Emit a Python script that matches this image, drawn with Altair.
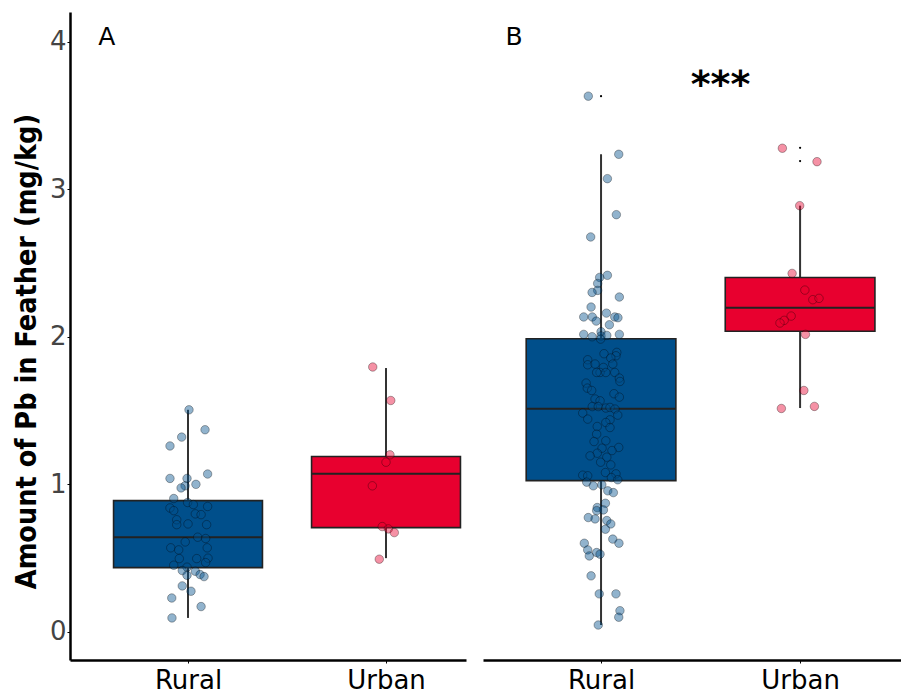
import altair as alt
import pandas as pd

groups = ["Rural", "Urban"]
group_pos = [1, 2]
colors = ["#004f8b", "#e8002f"]

# ---- Panel A box statistics (Rural, Urban) ----
a_q1 = [0.436, 0.707]
a_med = [0.642, 1.071]
a_q3 = [0.890, 1.189]
a_lo = [0.095, 0.500]
a_hi = [1.505, 1.788]

# ---- Panel B box statistics (Rural, Urban) ----
b_q1 = [1.025, 2.037]
b_med = [1.512, 2.196]
b_q3 = [1.986, 2.401]
b_lo = [0.047, 1.517]
b_hi = [3.236, 2.888]

# ---- Panel A points ----
a_rural_vals = [1.505, 1.37, 1.32, 1.26, 1.07, 1.04, 1.04, 1.00, 0.99, 0.976, 0.904, 0.877,
                0.863, 0.85, 0.84, 0.822, 0.80, 0.795, 0.76, 0.727, 0.732, 0.727, 0.642, 0.633,
                0.61, 0.57, 0.556, 0.57, 0.497, 0.497, 0.50, 0.452, 0.47, 0.439, 0.416, 0.411,
                0.384, 0.389, 0.375, 0.312, 0.276, 0.23, 0.172, 0.095]
a_rural_jit = [0.005, 0.086, -0.032, -0.091, 0.099, -0.091, -0.005, 0.040, -0.015, -0.035, -0.072, -0.002,
               0.027, 0.099, -0.091, -0.072, 0.037, 0.066, -0.057, -0.057, 0.0, 0.094, 0.049, 0.089,
               -0.014, -0.087, -0.047, 0.097, -0.044, 0.044, 0.101, -0.072, 0.089, -0.005, -0.029, 0.037,
               -0.005, 0.061, 0.081, -0.029, 0.015, -0.082, 0.066, -0.081]
a_urban_vals = [1.795, 1.568, 1.200, 1.150, 0.990, 0.714, 0.698, 0.673, 0.493]
a_urban_jit = [-0.067, 0.024, 0.020, 0.0, -0.069, -0.019, 0.012, 0.042, -0.034]

# ---- Panel B points ----
b_rural_vals = [3.63, 3.236, 3.071, 2.827, 2.676, 2.416, 2.402, 2.361, 2.314, 2.30, 2.269, 2.201,
                2.134, 2.134, 2.106, 2.16, 2.134, 2.129, 2.081, 2.034, 2.016, 2.0, 2.005, 2.009,
                2.016, 1.984,
                1.885, 1.894, 1.871, 1.856, 1.844, 1.810, 1.815, 1.792, 1.815, 1.758, 1.758, 1.758,
                1.758, 1.72, 1.697, 1.686, 1.652, 1.636, 1.614, 1.591, 1.578, 1.566, 1.527, 1.527,
                1.517, 1.521, 1.510, 1.469, 1.483, 1.442, 1.437, 1.419, 1.392, 1.385, 1.340, 1.295,
                1.290, 1.250, 1.245, 1.229, 1.211, 1.193, 1.184, 1.150, 1.132, 1.080, 1.071, 1.062,
                1.058, 1.046, 1.031,
                1.015, 0.990, 0.997, 0.956, 0.944, 0.872, 0.843, 0.827, 0.822, 0.775, 0.766, 0.755,
                0.732, 0.696, 0.629, 0.601, 0.601, 0.556, 0.538, 0.527, 0.515, 0.380, 0.258, 0.258,
                0.144, 0.100, 0.047]
b_rural_jit = [-0.064, 0.089, 0.032, 0.077, -0.052, 0.032, -0.007, -0.017, -0.017, -0.045, 0.092, -0.050,
               -0.087, -0.044, -0.024, 0.027, 0.069, 0.085, 0.042, 0.0, -0.087, -0.045, 0.0, 0.029,
               0.092, -0.002,
               0.015, 0.079, 0.075, 0.049, -0.067, -0.067, -0.030, 0.012, 0.059, -0.005, 0.024, -0.022,
               0.069, 0.092, 0.095, -0.075, -0.069, -0.047, 0.065, 0.092, -0.030, -0.005, -0.044, -0.014,
               0.024, 0.045, 0.070, 0.084, -0.092, -0.067, 0.045, 0.024, -0.019, 0.045, -0.022, 0.024,
               -0.035, 0.089, 0.005, 0.055, -0.019, -0.055, 0.029, -0.002, 0.049, 0.022, 0.075, -0.092,
               -0.067, 0.052, 0.084,
               -0.072, -0.039, 0.004, 0.034, 0.062, 0.022, -0.019, 0.012, -0.022, -0.064, -0.030, 0.029,
               0.049, 0.022, 0.059, 0.090, -0.084, -0.067, -0.022, -0.005, -0.059, -0.050, -0.009, 0.075,
               0.095, 0.089, -0.014]
b_urban_vals = [3.277, 3.186, 2.888, 2.429, 2.316, 2.251, 2.26, 2.140, 2.111, 2.093, 2.016, 1.636,
                1.514, 1.528]
b_urban_jit = [-0.089, 0.085, -0.002, -0.040, 0.024, 0.064, 0.095, -0.045, -0.080, -0.101, 0.027, 0.019,
               -0.094, 0.072]

# ---- Outliers (small black dots), panel B ----
b_out_groups = ["Rural", "Urban", "Urban"]
b_out_vals = [3.63, 3.28, 3.19]

# ---- Annotations ----
panel_letters = ["A", "B"]
letter_x = [0.59, 0.563]
letter_y = [4.03, 4.03]
star_text = "***"
star_x = 1.6
star_y = 3.70

Y_TITLE = "Amount of Pb in Feather (mg/kg)"
y_ticks = [0, 1, 2, 3, 4]
y_domain = [-0.19, 4.2]
HALF_BOX = 0.376
FONT = "DejaVu Sans"

pos_of = dict(zip(groups, group_pos))
color_scale = alt.Scale(domain=groups, range=colors)
label_expr = "datum.value == 1 ? '%s' : '%s'" % (groups[0], groups[1])


def panel(q1, med, q3, lo, hi, pts, outs, letter_idx, xdomain, width, show_y, stars):
    box_df = pd.DataFrame({"group": groups, "pos": group_pos, "q1": q1, "med": med,
                           "q3": q3, "lo": lo, "hi": hi})
    rows = []
    for g, vals, jit in pts:
        for v, j in zip(vals, jit):
            rows.append({"group": g, "pos": pos_of[g], "value": v, "jit": j})
    pts_df = pd.DataFrame(rows)

    xscale = alt.Scale(domain=xdomain, nice=False, zero=False)
    yscale = alt.Scale(domain=y_domain, nice=False, zero=False)
    xaxis = alt.Axis(values=group_pos, labelExpr=label_expr, title=None, grid=False,
                     domainColor="black", domainWidth=2.5, tickColor="black", tickSize=3,
                     labelFontSize=26, labelFont=FONT, labelColor="black",
                     labelPadding=4)
    if show_y:
        yaxis = alt.Axis(values=y_ticks, format="d", title=Y_TITLE, grid=False,
                         domainColor="black", domainWidth=2.5, tickColor="black", tickSize=3,
                         labelFontSize=26, labelFont=FONT, labelColor="#444444",
                         labelPadding=1, titleFontSize=28.5, titleFont="DejaVu Sans Condensed",
                         titleFontWeight="bold", titleColor="black", titlePadding=8,
                         titleY=339)
    else:
        yaxis = None

    base_box = alt.Chart(box_df).transform_calculate(
        xl="datum.pos - %f" % HALF_BOX, xr="datum.pos + %f" % HALF_BOX)

    whisk = alt.Chart(box_df).mark_rule(color="#333333", strokeWidth=2).encode(
        x=alt.X("pos:Q", scale=xscale, axis=xaxis),
        y=alt.Y("lo:Q", scale=yscale, axis=yaxis),
        y2="hi:Q")
    box = base_box.mark_bar(stroke="#222222", strokeWidth=1.6).encode(
        x=alt.X("xl:Q", scale=xscale), x2="xr:Q",
        y=alt.Y("q1:Q", scale=yscale), y2="q3:Q",
        fill=alt.Fill("group:N", scale=color_scale, legend=None))
    medl = base_box.mark_rule(color="#222222", strokeWidth=2).encode(
        x=alt.X("xl:Q", scale=xscale), x2="xr:Q",
        y=alt.Y("med:Q", scale=yscale))
    points = alt.Chart(pts_df).transform_calculate(xp="datum.pos + datum.jit").mark_circle(
        size=72, fillOpacity=0.43, stroke="black", strokeOpacity=0.45, strokeWidth=0.7,
        opacity=1).encode(
        x=alt.X("xp:Q", scale=xscale),
        y=alt.Y("value:Q", scale=yscale),
        fill=alt.Fill("group:N", scale=color_scale, legend=None))
    layers = [whisk, box, medl, points]
    if outs:
        out_df = pd.DataFrame({"group": outs[0], "value": outs[1]})
        out_df["pos"] = [pos_of[g] for g in outs[0]]
        layers.append(alt.Chart(out_df).mark_circle(size=5, color="black", opacity=1).encode(
            x=alt.X("pos:Q", scale=xscale), y=alt.Y("value:Q", scale=yscale)))
    let_df = pd.DataFrame({"t": [panel_letters[letter_idx]], "x": [letter_x[letter_idx]],
                           "y": [letter_y[letter_idx]]})
    layers.append(alt.Chart(let_df).mark_text(fontSize=25, font=FONT, color="black",
                                              baseline="middle", align="center").encode(
        x=alt.X("x:Q", scale=xscale), y=alt.Y("y:Q", scale=yscale), text="t:N"))
    if stars:
        st_df = pd.DataFrame({"t": [star_text], "x": [star_x], "y": [star_y]})
        layers.append(alt.Chart(st_df).mark_text(fontSize=38, font=FONT, fontWeight="bold",
                                                 color="black", baseline="middle",
                                                 align="center").encode(
            x=alt.X("x:Q", scale=xscale), y=alt.Y("y:Q", scale=yscale), text="t:N"))
    return alt.layer(*layers).properties(width=width, height=648)


pA = panel(a_q1, a_med, a_q3, a_lo, a_hi,
           [("Rural", a_rural_vals, a_rural_jit), ("Urban", a_urban_vals, a_urban_jit)],
           None, 0, [0.404, 2.404], 396, True, False)
pB = panel(b_q1, b_med, b_q3, b_lo, b_hi,
           [("Rural", b_rural_vals, b_rural_jit), ("Urban", b_urban_vals, b_urban_jit)],
           (b_out_groups, b_out_vals), 1, [0.407, 2.507], 418, False, True)

chart = alt.hconcat(pA, pB, spacing=17).properties(
    padding={"left": 4, "top": 4, "right": 0, "bottom": 0},
    background="white"
).configure_view(stroke=None)

chart.save("out.html", embed_options={"renderer": "svg", "actions": False})
